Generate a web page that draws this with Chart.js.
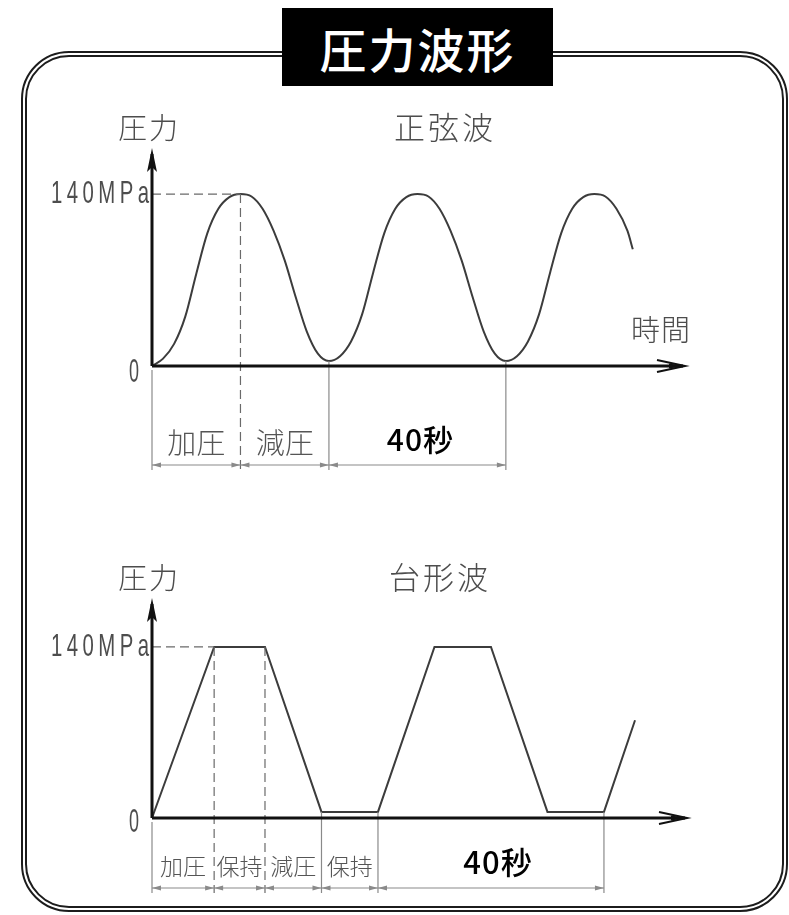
<!DOCTYPE html>
<html>
<head>
<meta charset="utf-8">
<script src="https://cdn.jsdelivr.net/npm/chart.js@4/dist/chart.umd.min.js"></script>
<style>
  html, body { margin: 0; padding: 0; background: #fff; }
  body { width: 789px; height: 915px; position: relative; overflow: hidden; }
  #frame {
    position: absolute; left: 21px; top: 51px; width: 767px; height: 861px;
    box-sizing: border-box; border: 6px double #1c1c1c; border-radius: 48px;
  }
  #title {
    position: absolute; left: 282px; top: 8px; width: 271px; height: 78px;
    background: #000; color: #fff; font: 500 47px "Noto Sans CJK JP", sans-serif;
    display: flex; align-items: center; justify-content: center; letter-spacing: 2px;
  }
  canvas { position: absolute; left: 0; }
  #sine { top: 0; }
  #trap { top: 500px; }
</style>
</head>
<body>
<div id="frame"></div>
<canvas id="sine" width="789" height="500"></canvas>
<canvas id="trap" width="789" height="415"></canvas>
<div id="title">圧力波形</div>
<script>
// ---- sine wave: time (s) / pressure (MPa) ----
const sineTime = [
  0, 2.5, 5, 7.5, 10, 12.5, 15, 17.5, 20, 22.5, 25, 27.5, 30, 32.5, 35, 37.5,
  40, 42.5, 45, 47.5, 50, 52.5, 55, 57.5, 60, 62.5, 65, 67.5, 70, 72.5, 75, 77.5,
  80, 82.5, 85, 87.5, 90, 92.5, 95, 97.5, 100, 102.5, 105, 107.5, 108.7
];
const sinePressure = [
  0, 6, 18, 40, 75, 108, 128, 137.5, 140, 138, 128, 110, 86, 56, 28, 10,
  4, 8, 20, 42, 76, 108, 128, 137.5, 140, 138, 128, 110, 86, 56, 28, 10,
  4, 8, 20, 42, 76, 108, 128, 137.5, 140, 138, 128, 110, 95
];
const sineMarks = [0, 20, 40, 80];
const sineSpans = ['加圧', '減圧', '40秒'];

// ---- trapezoid wave: time (s) / pressure (MPa) ----
const trapTime     = [0, 11, 20, 30, 40, 50, 60, 70, 80, 85.5];
const trapPressure = [0, 140, 140, 5, 5, 140, 140, 5, 5, 80];
const trapMarks    = [0, 11, 20, 30, 40, 80];
const trapSpans    = ['加圧', '保持', '減圧', '保持', '40秒'];

const peakPressure = 140;
const peakLabel = '140MPa';
const zeroLabel = '0';
const axisName = '圧力';
const timeName = '時間';

const JP = '"Noto Sans CJK JP", sans-serif';
const GREY_TEXT = '#4d4d4d';

function toPoints(xs, ys) { return xs.map((t, i) => ({ x: t, y: ys[i] })); }

// tall condensed lettering used for the pressure ticks
function narrowText(ctx, str, right, cy, width, size, spacing) {
  ctx.save();
  ctx.font = size + 'px "Liberation Sans", sans-serif';
  ctx.letterSpacing = spacing + 'px';
  const w = ctx.measureText(str).width - spacing;
  ctx.translate(right - width, cy);
  ctx.scale(width / w, 1);
  ctx.textAlign = 'left';
  ctx.textBaseline = 'middle';
  ctx.fillStyle = GREY_TEXT;
  ctx.fillText(str, 0, 0);
  ctx.restore();
}

function smallArrow(ctx, tipX, y, dir) {
  ctx.beginPath();
  ctx.moveTo(tipX, y);
  ctx.lineTo(tipX + dir * 9, y - 2.5);
  ctx.lineTo(tipX + dir * 9, y + 2.5);
  ctx.closePath();
  ctx.fill();
}

const diagram = {
  id: 'diagram',
  afterDatasetsDraw(chart, args, o) {
    const { ctx, chartArea: a, scales: { x, y } } = chart;
    const ds = chart.data.datasets[0].data;
    const x0 = a.left;
    const y0 = y.getPixelForValue(0);
    const yPeak = y.getPixelForValue(peakPressure);
    const dimY = y0 + o.dimGap;
    const extEnd = dimY + 5;
    ctx.save();

    // dashed level line at the peak
    const firstPeak = ds.find(p => p.y >= peakPressure);
    ctx.strokeStyle = '#6a6a6a';
    ctx.lineWidth = 1.3;
    ctx.setLineDash([9, 5]);
    ctx.beginPath();
    ctx.moveTo(x0, yPeak);
    ctx.lineTo(x.getPixelForValue(firstPeak.x), yPeak);
    ctx.stroke();

    // extension lines down to the dimension line
    o.marks.forEach(t => {
      const pt = ds.find(p => p.x === t);
      const px = x.getPixelForValue(t);
      const top = t === 0 ? y0 + 4 : y.getPixelForValue(pt.y);
      ctx.setLineDash(pt.y >= peakPressure ? [9, 5] : []);
      ctx.strokeStyle = pt.y >= peakPressure ? '#6a6a6a' : '#8a8a8a';
      ctx.lineWidth = 1.2;
      ctx.beginPath();
      ctx.moveTo(px, top);
      ctx.lineTo(px, extEnd);
      ctx.stroke();
    });
    ctx.setLineDash([]);

    // dimension line with arrowheads
    const xs = o.marks.map(t => x.getPixelForValue(t));
    ctx.strokeStyle = '#8a8a8a';
    ctx.fillStyle = '#8a8a8a';
    ctx.lineWidth = 1.2;
    ctx.beginPath();
    ctx.moveTo(xs[0], dimY);
    ctx.lineTo(xs[xs.length - 1], dimY);
    ctx.stroke();
    xs.forEach((px, i) => {
      if (i > 0) smallArrow(ctx, px, dimY, -1);
      if (i < xs.length - 1) smallArrow(ctx, px, dimY, 1);
    });

    // span labels
    ctx.textAlign = 'center';
    ctx.textBaseline = 'middle';
    o.spans.forEach((s, i) => {
      const cx = (xs[i] + xs[i + 1]) / 2;
      const strong = s.indexOf('秒') >= 0;
      ctx.fillStyle = strong ? '#000' : '#555';
      ctx.font = (strong ? '500 ' + o.boldSize : '300 ' + o.spanSize) + 'px ' + JP;
      ctx.letterSpacing = strong ? '1px' : '0px';
      ctx.fillText(s, cx + (strong ? o.boldShift : 0), y0 + (strong ? o.boldDy : o.spanDy));
    });
    ctx.letterSpacing = '0px';

    // axes
    ctx.strokeStyle = '#111';
    ctx.fillStyle = '#111';
    ctx.lineWidth = 3;
    ctx.beginPath();
    ctx.moveTo(x0, y0);
    ctx.lineTo(a.right - 2, y0);
    ctx.moveTo(x0, y0);
    ctx.lineTo(x0, a.top + 6);
    ctx.stroke();
    // x arrow (open head)
    ctx.lineWidth = 2;
    ctx.beginPath();
    ctx.moveTo(a.right - 28, y0 - 6);
    ctx.lineTo(a.right, y0);
    ctx.lineTo(a.right - 28, y0 + 6);
    ctx.stroke();
    ctx.beginPath();
    ctx.moveTo(a.right, y0);
    ctx.lineTo(a.right - 16, y0 - 2.5);
    ctx.lineTo(a.right - 16, y0 + 2.5);
    ctx.closePath();
    ctx.fill();
    // y arrow (spear head)
    ctx.beginPath();
    ctx.moveTo(x0, a.top);
    ctx.lineTo(x0 - 5, a.top + 24);
    ctx.lineTo(x0, a.top + 19);
    ctx.lineTo(x0 + 5, a.top + 24);
    ctx.closePath();
    ctx.fill();

    // tick text
    narrowText(ctx, peakLabel, x0 - 3, yPeak, 98, 32, 7);
    narrowText(ctx, zeroLabel, x0 - 13, y0 + o.zeroDy, 10, 33, 0);

    // names
    ctx.fillStyle = GREY_TEXT;
    ctx.textAlign = 'center';
    ctx.textBaseline = 'middle';
    ctx.font = '300 29px ' + JP;
    ctx.letterSpacing = '2px';
    ctx.fillText(axisName, x0 - 3, a.top - 20);
    ctx.font = '300 31px ' + JP;
    ctx.letterSpacing = '3px';
    ctx.fillText(o.name, o.nameX, a.top - 21);
    if (o.showTime) {
      ctx.font = '300 29px ' + JP;
      ctx.letterSpacing = '1px';
      ctx.fillText(timeName, a.right - 24, y0 - 36);
    }
    ctx.restore();
  }
};

function waveChart(id, pts, xMax, yMax, pad, opts) {
  return new Chart(document.getElementById(id), {
    type: 'line',
    data: {
      datasets: [{
        data: pts,
        borderColor: '#3c3c3c',
        borderWidth: 2,
        pointRadius: 0,
        fill: false,
        tension: opts.smooth ? 0.4 : 0,
        cubicInterpolationMode: opts.smooth ? 'monotone' : 'default',
        clip: false
      }]
    },
    options: {
      responsive: false,
      animation: false,
      events: [],
      layout: { padding: pad },
      scales: {
        x: { type: 'linear', min: 0, max: xMax, display: false },
        y: { type: 'linear', min: 0, max: yMax, display: false }
      },
      plugins: {
        legend: { display: false },
        tooltip: { enabled: false },
        diagram: opts
      }
    },
    plugins: [diagram]
  });
}

waveChart('sine', toPoints(sineTime, sinePressure), 120.5, 177.5,
  { left: 152, right: 104, top: 148, bottom: 134 },
  { smooth: true, marks: sineMarks, spans: sineSpans, dimGap: 99,
    spanDy: 77, boldDy: 74, spanSize: 29, boldSize: 30, boldShift: 3,
    zeroDy: 7, name: '正弦波', nameX: 445, showTime: true });

waveChart('trap', toPoints(trapTime, trapPressure), 94.7, 180,
  { left: 152, right: 102, top: 98, bottom: 97 },
  { smooth: false, marks: trapMarks, spans: trapSpans, dimGap: 70,
    spanDy: 48, boldDy: 44, spanSize: 23, boldSize: 31, boldShift: 7,
    zeroDy: 5, name: '台形波', nameX: 440, showTime: false });
</script>
</body>
</html>
